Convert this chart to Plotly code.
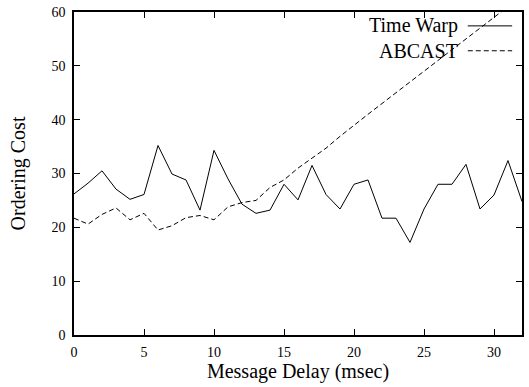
import plotly.graph_objects as go

delay = list(range(0, 33))
time_warp = [26.2, 28.2, 30.5, 27.1, 25.2, 26.1, 35.2, 29.9, 28.8, 23.2,
             34.3, 29.0, 24.3, 22.6, 23.2, 28.0, 25.1, 31.5, 26.1, 23.4,
             28.0, 28.8, 21.7, 21.7, 17.2, 23.4, 28.0, 28.0, 31.7, 23.4,
             26.0, 32.4, 24.8]
abcast = [21.7, 20.6, 22.4, 23.6, 21.4, 22.6, 19.5, 20.3, 21.8, 22.2,
          21.4, 23.8, 24.6, 25.0, 27.4, 28.8, 31.0, 32.8, 34.7, 36.9,
          39.0, 41.0, 43.0, 45.0, 47.0, 49.0, 51.0, 53.0, 55.0, 57.0,
          59.0, 61.0, 63.0]
series_names = ["Time Warp", "ABCAST"]
x_ticks = [0, 5, 10, 15, 20, 25, 30]
y_ticks = [0, 10, 20, 30, 40, 50, 60]

FONT = "Liberation Serif, Times New Roman, serif"

fig = go.Figure()
fig.add_trace(go.Scatter(x=delay, y=time_warp, mode="lines", name=series_names[0],
                         line=dict(color="black", width=1)))
fig.add_trace(go.Scatter(x=delay, y=abcast, mode="lines", name=series_names[1],
                         line=dict(color="black", width=1, dash="5px,3px")))

axis_common = dict(showline=True, linecolor="black", linewidth=1.5, mirror="allticks",
                   ticks="inside", ticklen=6, tickcolor="black", tickwidth=1,
                   showgrid=False, zeroline=False, automargin=False,
                   tickfont=dict(family=FONT, size=14, color="black"))

fig.update_layout(
    width=529, height=387,
    margin=dict(l=74, r=7, t=12, b=52),
    paper_bgcolor="white", plot_bgcolor="white",
    showlegend=False,
    xaxis=dict(range=[0, 32], tickvals=x_ticks, ticklabelstandoff=3,
               title=dict(text="Message Delay (msec)", font=dict(family=FONT, size=20, color="black"),
                          standoff=5),
               **axis_common),
    yaxis=dict(range=[0, 60], tickvals=y_ticks, ticklabelstandoff=4,
               title=dict(text="Ordering Cost", font=dict(family=FONT, size=20, color="black"),
                          standoff=20),
               **axis_common),
)

# gnuplot-style key: text then line sample, inside top right
legend_rows = [(series_names[0], "solid", 0.957), (series_names[1], "5px,3px", 0.88)]
for name, dash, yy in legend_rows:
    fig.add_annotation(x=0.862, y=yy, xref="paper", yref="paper", text=name,
                       showarrow=False, xanchor="right", yanchor="middle",
                       font=dict(family=FONT, size=20, color="black"))
    fig.add_shape(type="line", xref="paper", yref="paper", x0=0.879, x1=0.978, y0=yy, y1=yy,
                  line=dict(color="black", width=1, dash=dash))

fig.write_html("out.html", config={"displayModeBar": False},
               post_script="document.body.style.margin='0px';")
